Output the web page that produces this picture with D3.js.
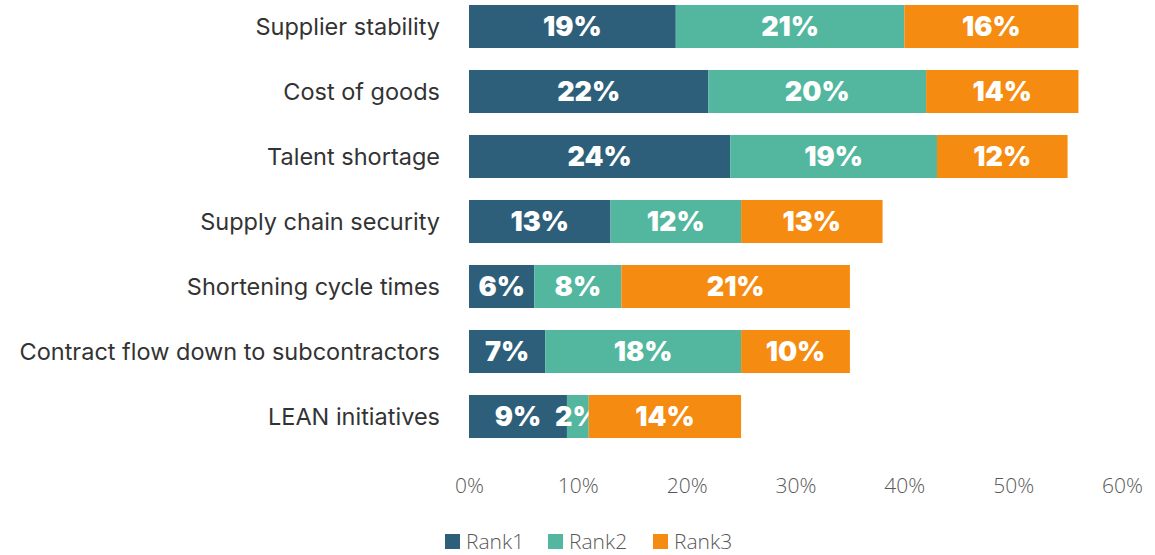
<!DOCTYPE html>
<html>
<head>
<meta charset="utf-8">
<script src="https://cdn.jsdelivr.net/npm/d3@7"></script>
<style>
  html, body { margin: 0; padding: 0; background: #fff; }
  svg { display: block; }
</style>
</head>
<body>
<svg id="chart" width="1155" height="555"></svg>
<script>
// Challenges ranked by respondents (share choosing each as rank 1, 2, 3)
const categories = [
  "Supplier stability",
  "Cost of goods",
  "Talent shortage",
  "Supply chain security",
  "Shortening cycle times",
  "Contract flow down to subcontractors",
  "LEAN initiatives"
];
const rank1 = [19, 22, 24, 13, 6, 7, 9];
const rank2 = [21, 20, 19, 12, 8, 18, 2];
const rank3 = [16, 14, 12, 13, 21, 10, 14];
const seriesNames = ["Rank1", "Rank2", "Rank3"];
const tickValues = [0, 10, 20, 30, 40, 50, 60];

const colors = ["#2E5F7A", "#52B79E", "#F68B11"];

const svg = d3.select("#chart");

const x = d3.scaleLinear().domain([0, 60]).range([469, 1122]);
const y = d3.scaleBand()
  .domain(categories)
  .range([-6, 449])
  .paddingInner(0.338)
  .paddingOuter(0.169);

const rows = categories.map((c, i) => ({ cat: c, Rank1: rank1[i], Rank2: rank2[i], Rank3: rank3[i] }));
const stacked = d3.stack().keys(seriesNames)(rows);

// Stacked segments
const layer = svg.selectAll("g.layer")
  .data(stacked)
  .join("g")
  .attr("class", "layer")
  .attr("fill", (d, i) => colors[i]);

layer.selectAll("rect")
  .data(d => d)
  .join("rect")
  .attr("x", d => x(d[0]))
  .attr("y", d => y(d.data.cat))
  .attr("width", d => x(d[1]) - x(d[0]))
  .attr("height", y.bandwidth());

// Value labels inside segments
layer.selectAll("text")
  .data((d) => d.map(v => ({ v, key: d.key })))
  .join("text")
  .attr("x", d => (x(d.v[0]) + x(d.v[1])) / 2)
  .attr("y", d => y(d.v.data.cat) + y.bandwidth() / 2)
  .attr("dy", "0.37em")
  .attr("text-anchor", "middle")
  .attr("fill", "#fff")
  .style("font-family", "Inter, sans-serif")
  .style("font-weight", 900)
  .style("font-size", "27px")
  .text(d => (d.v[1] - d.v[0]) + "%");

// Category axis (labels only)
const yAxis = svg.append("g")
  .attr("transform", `translate(${x(0)},0)`)
  .call(d3.axisLeft(y).tickSize(0).tickPadding(29));
yAxis.select(".domain").remove();
yAxis.selectAll("text")
  .attr("fill", "#333")
  .attr("dy", "0.36em")
  .style("font-family", "Inter, sans-serif")
  .style("font-size", "23.5px");

// Value axis (labels only)
const xAxis = svg.append("g")
  .attr("transform", "translate(0,478)")
  .call(d3.axisBottom(x).tickValues(tickValues).tickSize(0).tickPadding(0).tickFormat(d => d + "%"));
xAxis.select(".domain").remove();
xAxis.selectAll("text")
  .attr("fill", "#595959")
  .style("font-family", "'Open Sans', sans-serif")
  .style("font-weight", 300)
  .style("font-size", "21px");

// Legend
const legendX = [445, 548, 653];
const legend = svg.append("g").selectAll("g")
  .data(seriesNames)
  .join("g")
  .attr("transform", (d, i) => `translate(${legendX[i]},534)`);
legend.append("rect")
  .attr("width", 15).attr("height", 15)
  .attr("fill", (d, i) => colors[i]);
legend.append("text")
  .attr("x", 21).attr("y", 7.5).attr("dy", "0.36em")
  .attr("fill", "#595959")
  .style("font-family", "'Open Sans', sans-serif")
  .style("font-weight", 300)
  .style("font-size", "21px")
  .text(d => d);
</script>
</body>
</html>
